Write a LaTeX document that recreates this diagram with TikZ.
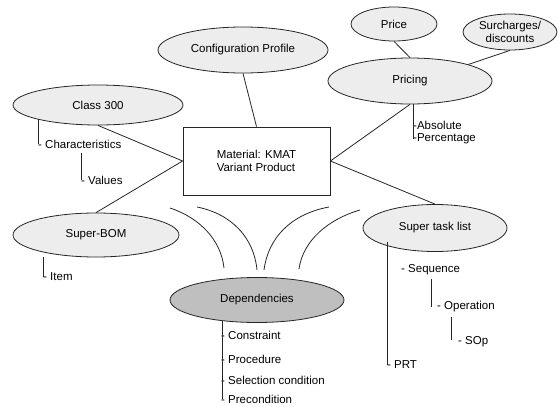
\documentclass[tikz,border=0pt]{standalone}
\usepackage{fontspec}
\setmainfont{Liberation Sans}
\usetikzlibrary{shapes.geometric, calc}
\definecolor{bubblegray}{rgb}{0.93, 0.93, 0.93}
\definecolor{depgray}{rgb}{0.75, 0.75, 0.75}
\tikzstyle{bubble} = [ellipse,draw=black!85,fill=bubblegray,line width=0.8pt,inner sep=0pt]
\tikzstyle{entry} = [anchor=west,inner sep=0pt]
\tikzstyle{link} = [draw=black!85,line width=0.8pt]

\begin{document}
\begin{tikzpicture}[x=1pt,y=-1pt,font=\fontsize{11.5}{13}\selectfont]
  \useasboundingbox (0,0) rectangle (558,407);
  % main parts
  \node[rectangle,draw=black!85,line width=0.8pt,minimum width=147pt,minimum height=68pt,align=left] (kmat) at (256.5,161) {Material: KMAT\\Variant Product};
  \node[bubble,minimum width=170pt,minimum height=46pt] (cfg) at (243,50) {Configuration Profile};
  \node[bubble,minimum width=170pt,minimum height=40pt] (cls) at (98,105) {Class 300};
  \node[bubble,minimum width=166pt,minimum height=44pt] (bom) at (96,235) {Super-BOM};
  \node[bubble,minimum width=164pt,minimum height=46pt] (prc) at (410,81) {Pricing};
  \node[bubble,minimum width=86pt,minimum height=34pt] (price) at (394,24) {Price};
  \node[bubble,minimum width=94pt,minimum height=36pt,align=center] (sur) at (510,32) {Surcharges/\\discounts};
  \node[bubble,minimum width=144pt,minimum height=47pt] (stl) at (435,228) {Super task list};
  \node[bubble,fill=depgray,minimum width=174pt,minimum height=45pt] (dep) at (257,300) {Dependencies};

  \draw[link] (cfg.south) -- (kmat.north);
  \draw[link] (cls.south) -- (kmat.west) -- (bom.north);
  \draw[link] (prc.south) -- (kmat.east) -- (stl.north);
  \draw[link] (price.south) -- (prc.north);
  \draw[link] (sur.south) -- (prc.north east);

  % sub items
  \node[entry] (chr) at (38,144) {- Characteristics};
  \node[entry] (val) at (81,180) {- Values};
  \draw[link] (chr.west |- cls.193) -- (chr.west);
  \draw[link] ($(val.west |- chr.south)+(0,5)$) -- (val.west);

  \node[entry] (item) at (43,277) {- Item};
  \draw[link] (item.west |- bom.south) -- (item.west);

  \node[entry] (abs) at (413,125) {-Absolute};
  \node[entry] (pct) at (413,139) {-Percentage};
  \draw[link] (abs.west |- prc.south) -- (pct.west);

  \node[entry] (seq) at (401,270) {- Sequence};
  \node[entry] (ops) at (437,307) {- Operation};
  \node[entry] (sop) at (458,342) {- SOp};
  \node[entry] (prt) at (387,365) {- PRT};
  \draw[link] ($(seq.south -| ops.west)+(-6,4)$) -- ($(ops.west)+(-6,0)$);
  \draw[link] ($(ops.south -| sop.west)+(-7,4)$) -- ($(sop.west)+(-7,-2)$);
  \draw[link] ($(stl.south -| prt.west)+(0,-10)$) -- (prt.west);

  \node[entry] (con) at (221,335) {- Constraint};
  \node[entry] (prd) at (221,359) {- Procedure};
  \node[entry] (sel) at (221,380) {- Selection condition};
  \node[entry] (pre) at (221,399) {- Precondition};
  \draw[link] ($(dep.210 -| pre.west)+(1,0)$) -- ($(pre.west)+(1,0)$);

  % arcs over dependencies
  \draw[link] (170,208) .. controls (200,218) and (221,240) .. (224,268);
  \draw[link] (197,207) .. controls (232,214) and (254,238) .. (257,270);
  \draw[link] (329,207) .. controls (291,214) and (268,238) .. (264,270);
  \draw[link] (360,210) .. controls (329,219) and (303,240) .. (299,269);
\end{tikzpicture}
\end{document}
